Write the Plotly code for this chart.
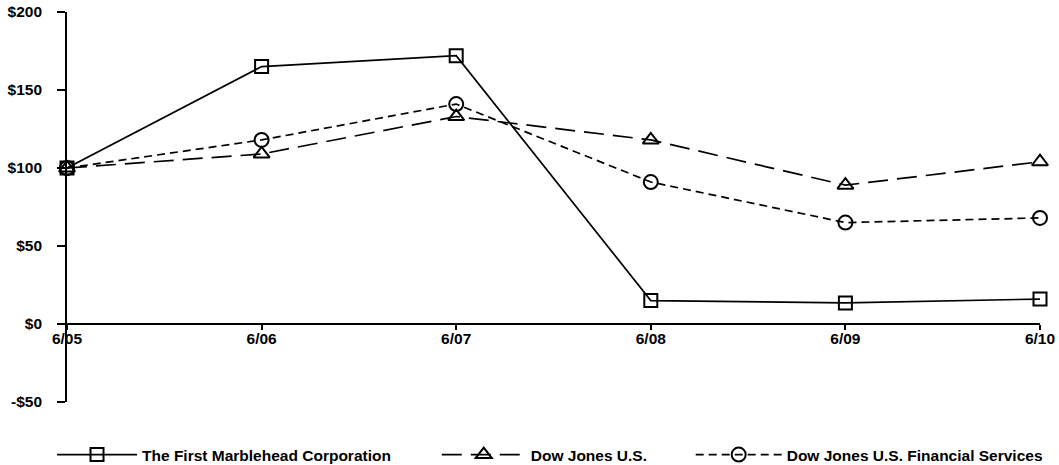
import plotly.graph_objects as go

categories = ["6/05", "6/06", "6/07", "6/08", "6/09", "6/10"]
marblehead = [100, 165, 172, 15, 13.5, 16]
dow_jones = [100, 109, 133, 118, 89, 104]
dj_financial = [100, 118, 141, 91, 65, 68]

y_tickvals = [200, 150, 100, 50, 0, -50]
y_ticktext = ["$200", "$150", "$100", "$50", "$0", "-$50"]

series_names = ["The First Marblehead Corporation", "Dow Jones U.S.", "Dow Jones U.S. Financial Services"]

FONT = "Liberation Sans, Arial, sans-serif"
xs = list(range(len(categories)))

fig = go.Figure()
fig.add_trace(go.Scatter(
    x=xs, y=marblehead, name=series_names[0], mode="lines+markers",
    line=dict(color="black", width=1.7, dash="solid"),
    marker=dict(symbol="square-open", size=13, color="black", line=dict(width=2)),
    cliponaxis=False, legend="legend"))
fig.add_trace(go.Scatter(
    x=xs, y=dow_jones, name=series_names[1], mode="lines+markers",
    line=dict(color="black", width=1.7, dash="20px,9px"),
    marker=dict(symbol="triangle-up-open", size=14, color="black", line=dict(width=2)),
    cliponaxis=False, legend="legend2"))
fig.add_trace(go.Scatter(
    x=xs, y=dj_financial, name=series_names[2], mode="lines+markers",
    line=dict(color="black", width=1.7, dash="8px,5px"),
    marker=dict(symbol="circle-open", size=14, color="black", line=dict(width=2)),
    cliponaxis=False, legend="legend3"))

ymin, ymax = -50, 200
legend_font = dict(family=FONT, size=15.5, color="black", weight="bold")
tick_font = dict(family=FONT, size=15.5, color="black", weight="bold")
leg_y = -0.136

fig.update_layout(
    width=1059, height=465,
    margin=dict(l=67, r=19, t=12, b=63, autoexpand=False),
    paper_bgcolor="white", plot_bgcolor="white",
    font=dict(family=FONT, size=15, color="black"),
    showlegend=True,
    xaxis=dict(
        range=[0, 5], tickvals=xs, ticktext=categories,
        showgrid=False, zeroline=False, automargin=False,
        showline=True, linecolor="black", linewidth=1.7,
        ticks="outside", ticklen=5, tickcolor="black", tickwidth=1.5,
        anchor="free", position=(0 - ymin) / (ymax - ymin),
        tickfont=tick_font, ticklabelstandoff=-4,
    ),
    yaxis=dict(
        range=[ymin, ymax], tickvals=y_tickvals, ticktext=y_ticktext,
        showgrid=False, zeroline=False, automargin=False,
        showline=True, linecolor="black", linewidth=1.7,
        ticks="outside", ticklen=8, tickcolor="black", tickwidth=1.5,
        tickfont=tick_font, ticklabelstandoff=12,
    ),
    legend=dict(x=-0.0154, y=leg_y, xanchor="left", yanchor="middle",
                font=legend_font, bgcolor="rgba(0,0,0,0)", itemwidth=80),
    legend2=dict(x=0.380, y=leg_y, xanchor="left", yanchor="middle",
                 font=legend_font, bgcolor="rgba(0,0,0,0)", itemwidth=84),
    legend3=dict(x=0.641, y=leg_y, xanchor="left", yanchor="middle",
                 font=legend_font, bgcolor="rgba(0,0,0,0)", itemwidth=86),
)

fig.write_html("out.html", config={"displayModeBar": False},
               post_script="document.body.style.margin='0';")
